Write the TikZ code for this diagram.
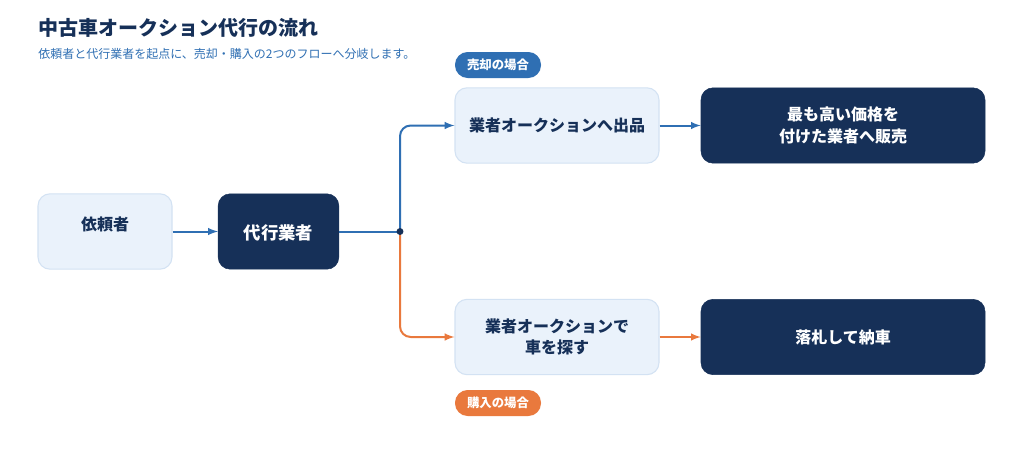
\documentclass[tikz,border=0pt]{standalone}
\usepackage{fontspec}
\setmainfont{Noto Sans CJK JP}
\usepackage{xcolor}
\definecolor{navy}{HTML}{163058}
\definecolor{paleblue}{HTML}{EAF2FB}
\definecolor{paleedge}{HTML}{D3E2F3}
\definecolor{flowblue}{HTML}{2F6FB3}
\definecolor{floworange}{HTML}{E9793D}
\usepackage{tikz}
\usetikzlibrary{arrows, positioning, shapes}

\tikzset{
	lightbox/.style={draw=paleedge, fill=paleblue, rounded corners=9, line width=0.8pt, text=navy, font=\bfseries\fontsize{12}{16}\selectfont, align=center},
	darkbox/.style={draw=navy, fill=navy, rounded corners=9, text=white, font=\bfseries\fontsize{12}{16}\selectfont, align=center},
	tag/.style={rounded corners=9.5, text=white, font=\bfseries\fontsize{9.3}{11}\selectfont, minimum width=64.5pt, minimum height=19.5pt, inner sep=0pt},
	blueline/.style={draw=flowblue, line width=1.5pt, -latex},
	orangeline/.style={draw=floworange, line width=1.5pt, -latex},
}

\begin{document}
\begin{tikzpicture}[x=0.75pt, y=-0.75pt]

% all coordinates in pixels of a 1024 x 464 canvas, y grows downward
\useasboundingbox[fill=white] (0,0) rectangle (1024,464);

\def \nh{56.5pt} % box height
% \def \nh{50pt}

% heading
\node[anchor=base west, inner sep=0pt, text=navy, font=\bfseries\fontsize{15}{18}\selectfont] (title) at (38,35) {中古車オークション代行の流れ};
\node[anchor=base west, inner sep=0pt, text=flowblue, font=\fontsize{9}{11}\selectfont] (subtitle) at (38,58) {依頼者と代行業者を起点に、売却・購入の2つのフローへ分岐します。};

% left part
\node[lightbox, minimum width=100.5pt, minimum height=\nh] (client) at (105,231.5) {\raisebox{0.8pt}[0pt][0pt]{依頼者}};
\node[darkbox, minimum width=90.5pt, minimum height=\nh, font=\bfseries\fontsize{13}{16}\selectfont] (agent) at (278.5,231.5) {\raisebox{-6.3pt}[0pt][0pt]{代行業者}};

% sell branch
\node[lightbox, minimum width=153pt, minimum height=\nh] (listing) at (557,125.5) {業者オークションへ出品};
\node[darkbox, minimum width=213pt, minimum height=\nh] (sale) at (843,125.5) {最も高い価格を\\付けた業者へ販売};

% buy branch
\node[lightbox, minimum width=153pt, minimum height=\nh] (search) at (557,337) {業者オークションで\\車を探す};
\node[darkbox, minimum width=213pt, minimum height=\nh] (deliver) at (843,337) {落札して納車};

% tags
\node[tag, fill=flowblue] (selltag) at (498,65) {売却の場合};
\node[tag, fill=floworange] (buytag) at (498,403) {購入の場合};

\coordinate (split) at (400,231.5);

\draw[blueline] (client) -- (agent); % client to agent
\draw[orangeline, rounded corners=8] (split) |- (search.west); % buy
\draw[blueline, -] (agent) -- (split);
\draw[blueline, rounded corners=8] (split) |- (listing.west); % sell
\draw[blueline] (listing) -- (sale);
\draw[orangeline] (search) -- (deliver);

\fill[navy] (split) circle (2.6pt);

\end{tikzpicture}
\end{document}
